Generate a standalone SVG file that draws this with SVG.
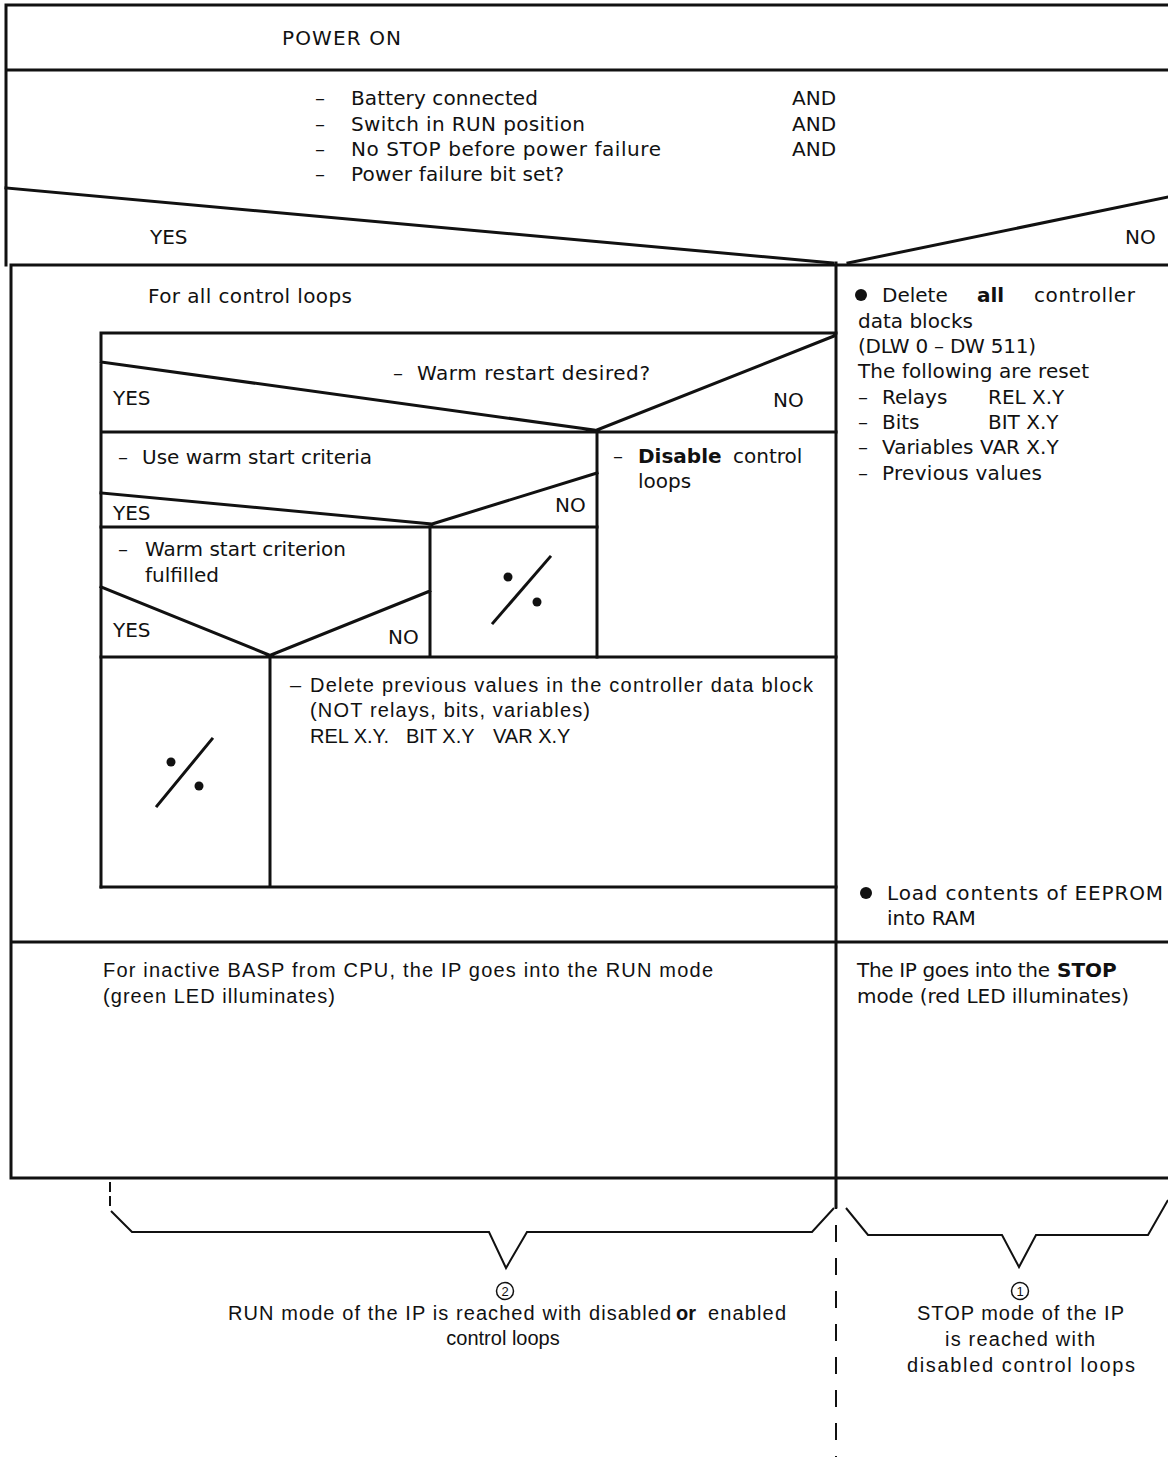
<svg xmlns="http://www.w3.org/2000/svg" width="1168" height="1457" viewBox="0 0 1168 1457">
<style>
.t{font-family:"DejaVu Sans",sans-serif;font-size:20px;fill:#111}
.c{font-family:"Liberation Sans",Arial,sans-serif;font-size:20px;fill:#111}
.n{font-family:"Liberation Sans",Arial,sans-serif;font-size:13px;fill:#111;text-anchor:middle}
.b{font-weight:bold}
.ln{stroke:#111;stroke-width:3;fill:none;stroke-linecap:square}
.th{stroke:#111;stroke-width:2;fill:none}
.dot{fill:#111}
</style>
<rect width="1168" height="1457" fill="#fff"/>

<g id="frame">
  <path class="ln" d="M6,5 H1168 M6,5 V265 M6,70 H1168 M11,265 H1168 M11,265 V1178 H1168 M836,263 V1207 M11,942 H1168"/>
</g>

<g id="power-on">
  <text class="t" x="282" y="45" textLength="119">POWER ON</text>
</g>

<g id="condition">
  <text class="t" x="315" y="105">–</text>
  <text class="t" x="351" y="105" textLength="187">Battery connected</text>
  <text class="t" x="315" y="131">–</text>
  <text class="t" x="351" y="131" textLength="234">Switch in RUN position</text>
  <text class="t" x="315" y="156">–</text>
  <text class="t" x="351" y="156" textLength="310">No STOP before power failure</text>
  <text class="t" x="315" y="181">–</text>
  <text class="t" x="351" y="181" textLength="213">Power failure bit set?</text>
  <text class="t" x="792" y="105">AND</text>
  <text class="t" x="792" y="131">AND</text>
  <text class="t" x="792" y="156">AND</text>
  <path class="ln" d="M6,188 L833,263 M848,263 L1168,197" stroke-width="3.5"/>
  <text class="t" x="150" y="244">YES</text>
  <text class="t" x="1125" y="244">NO</text>
</g>

<g id="for-all-loops">
  <text class="t" x="148" y="303" textLength="204">For all control loops</text>
</g>

<g id="warm-restart-decision">
  <path class="ln" d="M101,333 H836 M101,333 V887 M101,362 L594,430 M597,430 L834,336 M101,432 H836"/>
  <text class="t" x="393" y="380">–</text>
  <text class="t" x="417" y="380" textLength="233">Warm restart desired?</text>
  <text class="t" x="113" y="405">YES</text>
  <text class="t" x="773" y="407">NO</text>
</g>

<g id="disable-loops">
  <path class="ln" d="M597,432 V657"/>
  <text class="t" x="613" y="463">–</text>
  <text class="t b" x="638" y="463">Disable</text>
  <text class="t" x="733" y="463">control</text>
  <text class="t" x="638" y="488">loops</text>
</g>

<g id="use-criteria-decision">
  <text class="t" x="118" y="464">–</text>
  <text class="t" x="142" y="464" textLength="230">Use warm start criteria</text>
  <path class="ln" d="M101,493 L432,524 M432,524 L597,473 M101,527 H597"/>
  <text class="t" x="113" y="520">YES</text>
  <text class="t" x="555" y="512">NO</text>
</g>

<g id="criterion-decision">
  <text class="t" x="118" y="556">–</text>
  <text class="t" x="145" y="556" textLength="201">Warm start criterion</text>
  <text class="t" x="145" y="582">fulfilled</text>
  <path class="ln" d="M430,527 V657 M101,587 L269,655 M271,655 L430,591 M101,657 H836"/>
  <text class="t" x="113" y="637">YES</text>
  <text class="t" x="388" y="644">NO</text>
</g>

<g id="empty-no-criteria">
  <path class="ln" d="M493,623 L550,557"/>
  <circle class="dot" cx="508" cy="577" r="4.5"/>
  <circle class="dot" cx="537" cy="602" r="4.5"/>
</g>

<g id="empty-not-fulfilled">
  <path class="ln" d="M270,657 V887 M101,887 H836"/>
  <path class="ln" d="M157,806 L212,739"/>
  <circle class="dot" cx="171" cy="762" r="4.5"/>
  <circle class="dot" cx="199" cy="786" r="4.5"/>
</g>

<g id="delete-previous">
  <text class="c" x="290" y="692">–</text>
  <text class="c" x="310" y="692" textLength="503">Delete previous values in the controller data block</text>
  <text class="c" x="310" y="717" textLength="280">(NOT relays, bits, variables)</text>
  <text class="c" x="310" y="743">REL X.Y.</text>
  <text class="c" x="406" y="743">BIT X.Y</text>
  <text class="c" x="493" y="743">VAR X.Y</text>
</g>

<g id="delete-all">
  <circle class="dot" cx="861" cy="295" r="6"/>
  <text class="t" x="882" y="302">Delete</text>
  <text class="t b" x="977" y="302">all</text>
  <text class="t" x="1034" y="302" textLength="101">controller</text>
  <text class="t" x="858" y="328">data blocks</text>
  <text class="t" x="858" y="353" textLength="178">(DLW 0 – DW 511)</text>
  <text class="t" x="858" y="378" textLength="231">The following are reset</text>
  <text class="t" x="858" y="404">–</text>
  <text class="t" x="882" y="404">Relays</text>
  <text class="t" x="988" y="404">REL X.Y</text>
  <text class="t" x="858" y="429">–</text>
  <text class="t" x="882" y="429">Bits</text>
  <text class="t" x="988" y="429">BIT X.Y</text>
  <text class="t" x="858" y="454">–</text>
  <text class="t" x="882" y="454">Variables</text>
  <text class="t" x="980" y="454">VAR X.Y</text>
  <text class="t" x="858" y="480">–</text>
  <text class="t" x="882" y="480" textLength="160">Previous values</text>
</g>

<g id="load-eeprom">
  <circle class="dot" cx="866" cy="893" r="6"/>
  <text class="t" x="887" y="900" textLength="276">Load contents of EEPROM</text>
  <text class="t" x="887" y="925">into RAM</text>
</g>

<g id="run-mode">
  <text class="c" x="103" y="977" textLength="610">For inactive BASP from CPU, the IP goes into the RUN mode</text>
  <text class="c" x="103" y="1003" textLength="232">(green LED illuminates)</text>
</g>

<g id="stop-mode">
  <text class="t" x="857" y="977" textLength="193">The IP goes into the</text>
  <text class="t b" x="1057" y="977">STOP</text>
  <text class="t" x="857" y="1003" textLength="272">mode (red LED illuminates)</text>
</g>

<g id="connectors">
  <path class="th" d="M110,1182 V1206" stroke-dasharray="10 4"/>
  <path class="th" d="M836,1207 V1457" stroke-dasharray="17 16" stroke-dashoffset="-18"/>
  <path class="th" d="M111,1211 L132,1232 H489 L506,1268 L527,1232 H812 L834,1208"/>
  <path class="th" d="M846,1208 L868,1235 H1002 L1019,1267 L1036,1235 H1148 L1168,1200"/>
</g>

<g id="note-run">
  <circle cx="505" cy="1291" r="8.5" fill="none" stroke="#111" stroke-width="1.5"/>
  <text class="n" x="505" y="1295.5">2</text>
  <text class="c" x="228" y="1320" textLength="443">RUN mode of the IP is reached with disabled</text>
  <text class="c b" x="676" y="1320">or</text>
  <text class="c" x="708" y="1320" textLength="78">enabled</text>
  <text class="c" x="503" y="1345" text-anchor="middle">control loops</text>
</g>

<g id="note-stop">
  <circle cx="1020" cy="1291" r="8.5" fill="none" stroke="#111" stroke-width="1.5"/>
  <text class="n" x="1020" y="1295.5">1</text>
  <text class="c" x="917" y="1320" textLength="207">STOP mode of the IP</text>
  <text class="c" x="945" y="1346" textLength="150">is reached with</text>
  <text class="c" x="907" y="1372" textLength="228">disabled control loops</text>
</g>
</svg>
